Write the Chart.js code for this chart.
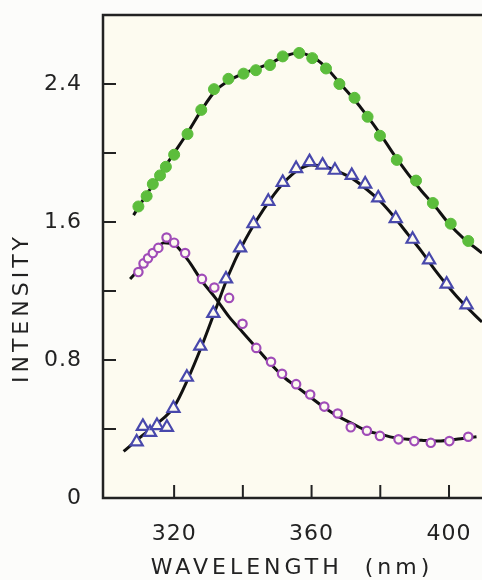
<!DOCTYPE html>
<html>
<head>
<meta charset="utf-8">
<script src="https://cdn.jsdelivr.net/npm/chart.js@4.4.1/dist/chart.umd.min.js"></script>
<style>
  html, body { margin: 0; padding: 0; background: #fcfcfa; }
  #wrap { width: 482px; height: 580px; }
</style>
</head>
<body>
<div id="wrap"><canvas id="chart" width="482" height="580"></canvas></div>
<script>
// axis ticks (nm / intensity)
const wavelengthTicks = [320, 340, 360, 380, 400];
const wavelengthLabels = [320, 360, 400];
const intensityTicks = [0.4, 0.8, 1.2, 1.6, 2.0, 2.4];
const intensityLabels = [0, 0.8, 1.6, 2.4];

// measured points [wavelength, intensity]
const greenPoints = [
  [309.6, 1.69], [312.0, 1.75], [313.8, 1.82], [315.9, 1.87], [317.6, 1.92],
  [320.0, 1.99], [323.9, 2.11], [327.9, 2.25], [331.6, 2.37], [335.8, 2.43],
  [340.2, 2.46], [343.8, 2.48], [347.9, 2.51], [351.6, 2.56], [356.4, 2.58],
  [360.2, 2.55], [364.2, 2.49], [368.1, 2.40], [372.5, 2.32], [376.3, 2.21],
  [379.9, 2.10], [384.8, 1.96], [390.4, 1.84], [395.3, 1.71], [400.5, 1.59],
  [405.6, 1.49]
];
const purplePoints = [
  [309.6, 1.31], [311.1, 1.36], [312.4, 1.39], [313.8, 1.42], [315.4, 1.45],
  [317.8, 1.51], [320.0, 1.48], [323.2, 1.42], [328.1, 1.27], [331.7, 1.22],
  [336.0, 1.16], [339.9, 1.01], [343.9, 0.87], [348.2, 0.79], [351.4, 0.72],
  [355.5, 0.66], [359.6, 0.60], [363.7, 0.53], [367.6, 0.49], [371.4, 0.41],
  [376.1, 0.39], [379.9, 0.36], [385.3, 0.34], [389.9, 0.33], [394.7, 0.32],
  [400.1, 0.33], [405.6, 0.355]
];
const bluePoints = [
  [309.1, 0.325], [310.9, 0.415], [313.0, 0.38], [315.0, 0.42], [317.9, 0.41],
  [319.8, 0.52], [323.7, 0.70], [327.6, 0.88], [331.4, 1.07], [335.1, 1.27],
  [339.2, 1.45], [343.1, 1.59], [347.4, 1.72], [351.6, 1.83], [355.5, 1.91],
  [359.4, 1.95], [363.2, 1.93], [366.8, 1.90], [371.7, 1.87], [375.6, 1.82],
  [379.4, 1.74], [384.5, 1.62], [389.4, 1.50], [394.2, 1.38], [399.3, 1.24],
  [405.1, 1.12]
];

// fitted curves
const greenFit = [
  [308.2, 1.64], [312, 1.76], [316, 1.88], [320, 2.00], [324, 2.12], [328, 2.25],
  [332, 2.36], [336, 2.42], [340, 2.46], [344, 2.49], [348, 2.52], [352, 2.56],
  [356, 2.58], [360, 2.56], [364, 2.50], [368, 2.41], [372, 2.32], [376, 2.22],
  [380, 2.11], [384, 1.99], [388, 1.88], [392, 1.78], [396, 1.69], [400, 1.59],
  [404, 1.51], [409.6, 1.42]
];
const purpleFit = [
  [307.2, 1.27], [310, 1.33], [314, 1.42], [317, 1.48], [320, 1.47], [324, 1.38],
  [328, 1.26], [332, 1.16], [336, 1.05], [340, 0.96], [344, 0.87], [348, 0.78],
  [352, 0.70], [356, 0.64], [360, 0.58], [364, 0.52], [368, 0.47], [372, 0.43],
  [376, 0.39], [380, 0.37], [384, 0.35], [388, 0.34], [392, 0.335], [396, 0.33],
  [400, 0.335], [404, 0.345], [408, 0.355]
];
const blueFit = [
  [305.3, 0.27], [310, 0.35], [315, 0.43], [320, 0.53], [324, 0.69], [328, 0.88],
  [332, 1.09], [336, 1.30], [340, 1.47], [344, 1.61], [348, 1.73], [352, 1.83],
  [356, 1.90], [360, 1.93], [364, 1.92], [368, 1.89], [372, 1.85], [376, 1.79],
  [380, 1.72], [384, 1.63], [388, 1.53], [392, 1.43], [396, 1.32], [400, 1.22],
  [404, 1.13], [409.6, 1.02]
];

const plotBg = '#fdfbf0';
const ink = '#222';
const fontFamily = '"DejaVu Sans", sans-serif';

const toXY = arr => arr.map(p => ({ x: p[0], y: p[1] }));

function markers(points, style, color, radius, filled) {
  return {
    data: toXY(points),
    showLine: false,
    pointStyle: style,
    pointRadius: radius,
    pointBorderWidth: filled ? 1 : 2.2,
    pointBorderColor: color,
    pointBackgroundColor: filled ? color : plotBg
  };
}
function fitLine(points) {
  return {
    data: toXY(points),
    showLine: true,
    pointRadius: 0,
    borderColor: '#111',
    borderWidth: 3,
    cubicInterpolationMode: 'monotone'
  };
}

// plot background, frame, inward ticks and axis titles
const frame = {
  id: 'frame',
  beforeDraw(chart) {
    const { ctx, chartArea: a } = chart;
    ctx.save();
    ctx.fillStyle = plotBg;
    ctx.fillRect(a.left, a.top, a.right - a.left, a.bottom - a.top);
    ctx.restore();
    ctx.letterSpacing = '1px'; // slightly wider lettering for tick labels
  },
  afterDraw(chart) {
    const { ctx, chartArea: a, scales } = chart;
    ctx.save();
    ctx.strokeStyle = ink;
    ctx.lineWidth = 2.5;
    ctx.beginPath();
    ctx.moveTo(a.right + 5, a.top);
    ctx.lineTo(a.left, a.top);
    ctx.lineTo(a.left, a.bottom);
    ctx.lineTo(a.right + 5, a.bottom);
    ctx.stroke();

    ctx.lineWidth = 2;
    ctx.beginPath();
    wavelengthTicks.forEach(v => {
      const px = scales.x.getPixelForValue(v);
      ctx.moveTo(px, a.bottom);
      ctx.lineTo(px, a.bottom - 13);
    });
    intensityTicks.forEach(v => {
      const py = scales.y.getPixelForValue(v);
      ctx.moveTo(a.left, py);
      ctx.lineTo(a.left + 13, py);
    });
    ctx.stroke();

    ctx.fillStyle = ink;
    ctx.font = '22px ' + fontFamily;
    ctx.textAlign = 'center';
    ctx.textBaseline = 'middle';
    ctx.letterSpacing = '4px';
    ctx.fillText('WAVELENGTH  (nm)', 292, 568);
    ctx.translate(22, 308);
    ctx.rotate(-Math.PI / 2);
    ctx.fillText('INTENSITY', 0, 0);
    ctx.restore();
  }
};

const datasets = [
  markers(greenPoints, 'circle', '#5cbd3c', 5.5, true),
  markers(purplePoints, 'circle', '#a04cb8', 4.2, false),
  markers(bluePoints, 'triangle', '#4848ac', 7, false),
  fitLine(greenFit),
  fitLine(purpleFit),
  fitLine(blueFit)
];

new Chart(document.getElementById('chart'), {
  type: 'scatter',
  data: { datasets: datasets },
  options: {
    responsive: false,
    animation: false,
    layout: { padding: { top: 15, left: 0, right: 0, bottom: 0 }, autoPadding: false },
    plugins: { legend: { display: false }, tooltip: { enabled: false } },
    scales: {
      x: {
        type: 'linear',
        min: 299.3,
        max: 409.6,
        grid: { display: false },
        border: { display: false },
        afterBuildTicks: s => { s.ticks = wavelengthTicks.map(v => ({ value: v })); },
        afterFit: s => { s.height = 82; s.paddingLeft = 0; s.paddingRight = 0; },
        ticks: {
          autoSkip: false,
          maxRotation: 0,
          padding: 15,
          color: ink,
          font: { family: fontFamily, size: 22 },
          callback: v => wavelengthLabels.includes(v) ? String(v) : ''
        }
      },
      y: {
        min: 0,
        max: 2.8,
        grid: { display: false },
        border: { display: false },
        afterBuildTicks: s => { s.ticks = intensityLabels.map(v => ({ value: v })); },
        afterFit: s => { s.width = 103; s.paddingTop = 0; s.paddingBottom = 0; },
        ticks: {
          padding: 13,
          color: ink,
          font: { family: fontFamily, size: 22 },
          callback: v => v === 0 ? '0' : v.toFixed(1)
        }
      }
    }
  },
  plugins: [frame]
});
</script>
</body>
</html>
